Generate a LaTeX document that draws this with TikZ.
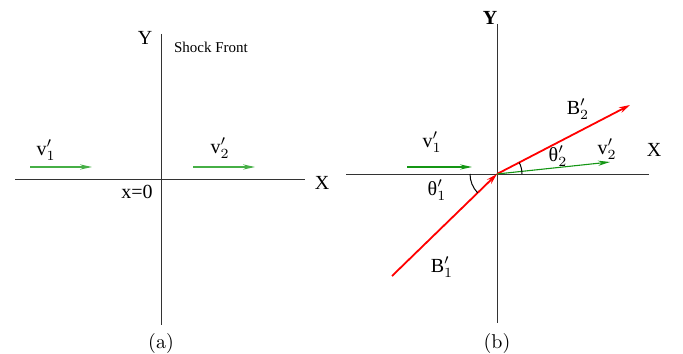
\documentclass[tikz,border=0pt]{standalone}
\usepackage{fontspec}
\newfontfamily\tms{Liberation Serif}
\usetikzlibrary{arrows.meta,calc}
\definecolor{vgreen}{RGB}{20,150,20}
\definecolor{vlight}{RGB}{70,175,70}
\newcommand{\vlab}[1]{{\tms v}$'_{#1}$}
\newcommand{\blab}[1]{{\tms B}$'_{#1}$}
\newcommand{\tlab}[1]{{\tms θ}$'_{#1}$}
\tikzset{
  axis/.style={line width=0.5pt, black!80},
  vel/.style={vgreen, line width=0.55pt, -{Stealth[length=6pt,width=2.6pt]}},
  fld/.style={red, line width=0.9pt, -{Stealth[length=5.5pt,width=3pt]}},
  lab/.style={inner sep=0pt, font=\tms}
}
\begin{document}
\begin{tikzpicture}[x=0.5pt,y=-0.5pt]
\useasboundingbox (0,0) rectangle (683,353);

% (a) Ejes
\coordinate (aL) at (15,179);
\coordinate (aR) at (305,179);
\coordinate (aT) at (161,34);
\coordinate (aB) at (161,325);
\draw [axis] (aL) -- (aR);
\draw [axis] (aT) -- (aB);
\node [lab] (aY) at (145,38) {Y};
\node [lab] (aX) at (322,183) {X};
\node [lab] (ax0) at (137,192) {x=0};
\node [lab, font=\tms\fontsize{7.5}{9}\selectfont] (shock) at (211,47) {Shock Front};

% (a) Velocidades
\coordinate (v1s) at (30,167);
\coordinate (v1e) at (92,167);
\coordinate (v2s) at (193,167);
\coordinate (v2e) at (255,167);
\draw [vel, vlight] (v1s) -- (v1e);
\draw [vel, vlight] (v2s) -- (v2e);
\node [lab] (av1) at (46,150) {\vlab{1}};
\node [lab] (av2) at (220,148) {\vlab{2}};
\node [inner sep=0pt] (capa) at (161,343) {(a)};

% (b) Ejes
\coordinate (O) at (497,174);
\coordinate (bL) at (346,174);
\coordinate (bR) at (649,174);
\coordinate (bT) at (497,24);
\coordinate (bB) at (497,323);
\draw [axis] (bL) -- (bR);
\draw [axis] (bT) -- (bB);
\node [lab, font=\tms\bfseries] (bY) at (490,18) {Y};
\node [lab] (bX) at (654,150) {X};

% (b) Campo y velocidades
\coordinate (B1s) at (392,276);
\coordinate (B2e) at (630,105);
\coordinate (w1s) at (407,167);
\coordinate (w1e) at (472,167);
\coordinate (w2e) at (610,162);
\draw [fld] (B1s) -- (O);
\draw [fld] (O) -- (B2e);
\draw [vel] (w1s) -- (w1e);
\draw [vel] (O) -- (w2e);

% (b) Angulos
\draw [line width=0.5pt] ($(O)+(-27,0)$) arc [start angle=180, end angle=136, radius=27];
\draw [line width=0.5pt] ($(O)+(25,0)$) arc [start angle=0, end angle=-27, radius=25];

% (b) Etiquetas
\node [lab] (bv1) at (432,142) {\vlab{1}};
\node [lab] (bv2) at (607,149) {\vlab{2}};
\node [lab] (bB2) at (578,109) {\blab{2}};
\node [lab] (bB1) at (442,267) {\blab{1}};
\node [lab] (bt2) at (558,156) {\tlab{2}};
\node [lab] (bt1) at (437,190) {\tlab{1}};
\node [inner sep=0pt] (capb) at (497,343) {(b)};
\end{tikzpicture}
\end{document}
